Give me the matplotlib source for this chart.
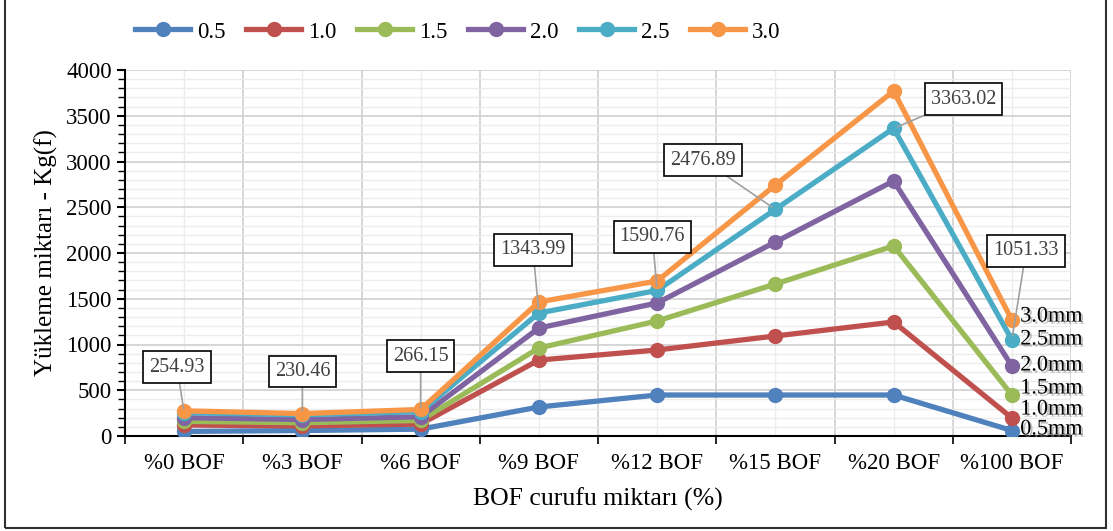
import matplotlib.pyplot as plt
import matplotlib.patheffects as pe
from matplotlib.patches import Rectangle
from matplotlib.ticker import MultipleLocator, FixedLocator
import numpy as np

plt.rcParams["font.family"] = ["Liberation Serif", "DejaVu Serif"]

categories = ["%0 BOF", "%3 BOF", "%6 BOF", "%9 BOF", "%12 BOF",
              "%15 BOF", "%20 BOF", "%100 BOF"]
series_names = ["0.5", "1.0", "1.5", "2.0", "2.5", "3.0"]
end_labels = ["0.5mm", "1.0mm", "1.5mm", "2.0mm", "2.5mm", "3.0mm"]

s05 = [50, 60, 75, 317, 448, 448, 448, 60]
s10 = [120, 110, 130, 830, 940, 1093, 1246, 197]
s15 = [160, 145, 170, 962, 1257, 1661, 2077, 448]
s20 = [200, 180, 210, 1180, 1454, 2120, 2787, 765]
s25 = [254.93, 230.46, 266.15, 1343.99, 1590.76, 2476.89, 3363.02, 1051.33]
s30 = [275, 245, 290, 1465, 1694, 2743, 3770, 1268]
series = [s05, s10, s15, s20, s25, s30]

colors = ["#4F81BD", "#C0504D", "#9BBB59", "#8064A2", "#4BACC6", "#F79646"]

fig = plt.figure(figsize=(11.13, 5.31), dpi=100)
ax = fig.add_axes([125 / 1113, 1 - 436 / 531, (1071 - 125) / 1113, (436 - 70) / 531])

x = np.arange(len(categories))
lines = []
for vals, name, c in zip(series, series_names, colors):
    ln, = ax.plot(x, vals, "-o", color=c, linewidth=3.8, markersize=10,
                  label=name, zorder=3)
    lines.append(ln)

ax.set_xlim(-0.5, len(categories) - 0.5)
ax.set_ylim(0, 4000)
ax.yaxis.set_major_locator(MultipleLocator(500))
ax.yaxis.set_minor_locator(MultipleLocator(100))
ax.xaxis.set_major_locator(FixedLocator(np.arange(-0.5, len(categories), 1.0)))
ax.xaxis.set_minor_locator(FixedLocator(x))
ax.set_xticklabels([])
ax.set_xticks(x, categories, minor=True)
ax.tick_params(axis="x", which="minor", length=0, labelsize=16.5, pad=12)
ax.tick_params(axis="x", which="major", length=6, width=1.2)
ax.tick_params(axis="y", which="major", length=6, width=1.5, labelsize=16.5)
ax.tick_params(axis="y", which="minor", length=5, width=1.0)

ax.grid(True, which="major", color="#d0d0d0", linewidth=1.2, zorder=0)
ax.grid(True, which="minor", color="#ececec", linewidth=1.0, zorder=0)
ax.set_axisbelow(True)
for side in ["top", "right"]:
    ax.spines[side].set_visible(False)
ax.spines["left"].set_linewidth(1.5)
ax.spines["bottom"].set_linewidth(1.5)

ax.set_xlabel("BOF curufu miktarı (%)", fontsize=18.5, labelpad=10)
ax.set_ylabel("Yükleme miktarı - Kg(f)", fontsize=18, labelpad=6)

# value callouts for the 2.5 mm series
box_pos = [(-0.06, 754), (1.0, 700), (2.0, 874), (2.95, 2033),
           (3.96, 2175), (4.39, 3016), (6.59, 3683), (7.12, 2022)]
for xi, (v, (bx, by)) in enumerate(zip(s25, box_pos)):
    ax.annotate(f"{v:.2f}", xy=(xi, v), xytext=(bx, by), ha="center", va="center",
                fontsize=14.5, color="#404040", zorder=5,
                bbox=dict(boxstyle="square,pad=0.3", fc="white", ec="black", lw=1.2),
                arrowprops=dict(arrowstyle="-", color="#a0a0a0", lw=1.2,
                                shrinkA=0, shrinkB=3))

# end labels with shadow
end_y = [66, 284, 514, 765, 1049, 1300]
for lab, yv in zip(end_labels, end_y):
    ax.annotate(lab, xy=(x[-1], yv), xytext=(6, 0), textcoords="offset points",
                ha="left", va="center", fontsize=16, annotation_clip=False,
                path_effects=[pe.withSimplePatchShadow(offset=(1.5, -1.5),
                                                       shadow_rgbFace="#999999",
                                                       alpha=0.6)])

fig.legend(handles=lines, loc="center", bbox_to_anchor=(458 / 1113, 1 - 32 / 531),
           ncol=6, frameon=False, fontsize=16.5, handlelength=2.4,
           columnspacing=0.9, handletextpad=0.3)

fig.patches.append(Rectangle((5 / 1113, 3 / 531), (1106 - 5) / 1113, 1.1,
                             transform=fig.transFigure, fill=False,
                             ec="#303030", lw=1.5))

fig.savefig("out.png", dpi=100)
